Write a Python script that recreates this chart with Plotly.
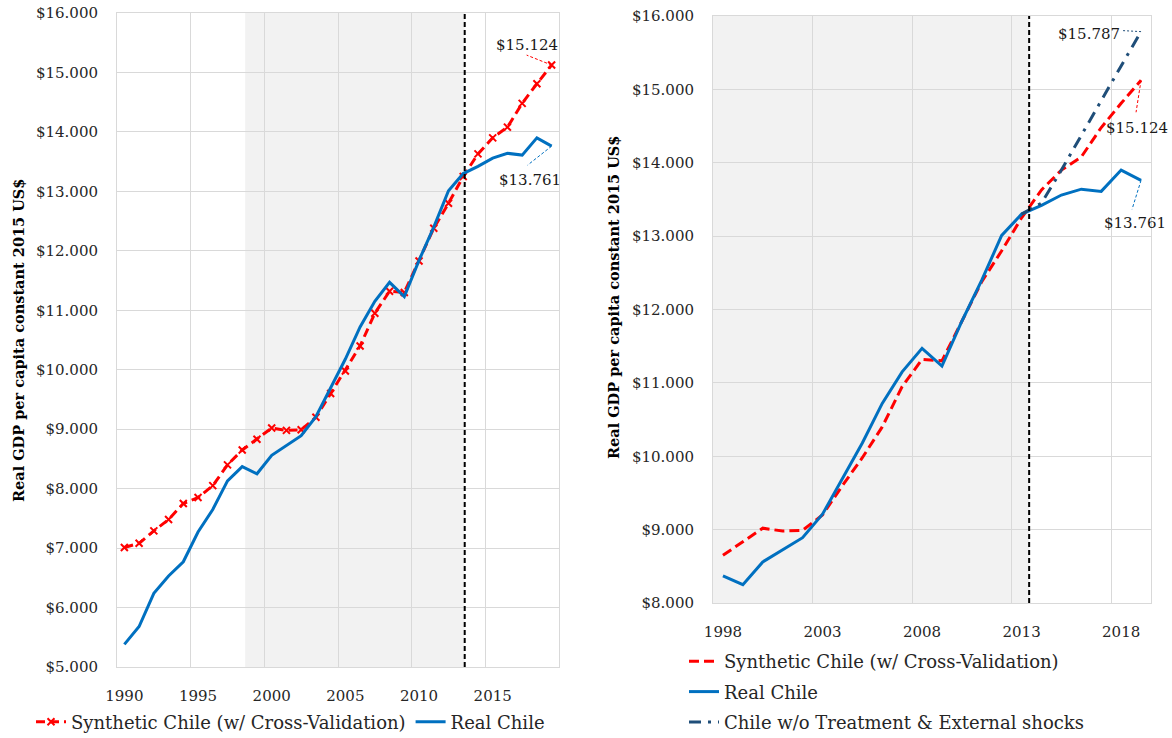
import plotly.graph_objects as go

# ---------------- data ----------------
years_left = list(range(1990, 2020))
real_chile = [5380, 5680, 6240, 6530, 6770, 7270, 7650, 8130, 8370, 8250,
              8560, 8720, 8890, 9210, 9700, 10180, 10720, 11150, 11470, 11230,
              11840, 12400, 13010, 13300, 13420, 13560, 13640, 13610, 13900, 13761]
synthetic_chile = [7010, 7080, 7290, 7480, 7750, 7850, 8050, 8400, 8650, 8830,
                   9020, 8980, 8990, 9200, 9600, 9980, 10400, 10950, 11320, 11300,
                   11830, 12380, 12800, 13250, 13630, 13900, 14080, 14480, 14810, 15124]
years_right = list(range(1998, 2020))
years_no_treat = list(range(2013, 2020))
chile_no_treatment = [13300, 13450, 13900, 14380, 14850, 15320, 15787]

left_xticks = [1990, 1995, 2000, 2005, 2010, 2015]
right_xticks = [1998, 2003, 2008, 2013, 2018]
left_yticks = list(range(5000, 16001, 1000))
right_yticks = list(range(8000, 16001, 1000))

def money(v):
    return "$" + f"{v:,}".replace(",", ".")

name_syn = "Synthetic Chile (w/ Cross-Validation)"
name_real = "Real Chile"
name_nt = "Chile w/o Treatment & External shocks"
ytitle = "Real GDP per capita constant 2015 US$"

shade_left = (1998.2, 2013.1)
shade_right = (1997.5, 2013.38)

RED = "#FF0000"
BLUE = "#0070C0"
NAVY = "#1F4E79"
GRID = "#D9D9D9"
SHADE = "#F2F2F2"
FONT = "DejaVu Serif"
TXT = "#262626"

r_idx = years_left.index(1998)
real_right = real_chile[r_idx:]
syn_right = synthetic_chile[r_idx:]

W = 1172.0
H = 738.0
def px(X):
    return X / W
def py(Y):
    return 1 - Y / H

fig = go.Figure()

# left panel
fig.add_trace(go.Scatter(x=years_left, y=synthetic_chile, name=name_syn, mode="lines+markers",
                         line=dict(color=RED, width=3, dash="9px,5px"),
                         marker=dict(symbol="x-thin", size=7, line=dict(color=RED, width=2)),
                         xaxis="x", yaxis="y", legend="legend"))
fig.add_trace(go.Scatter(x=years_left, y=real_chile, name=name_real, mode="lines",
                         line=dict(color=BLUE, width=3),
                         xaxis="x", yaxis="y", legend="legend"))

# right panel
fig.add_trace(go.Scatter(x=years_right, y=syn_right, name=name_syn, mode="lines",
                         line=dict(color=RED, width=3, dash="10px,5px"),
                         xaxis="x2", yaxis="y2", legend="legend2", legendgroup="a"))
fig.add_trace(go.Scatter(x=years_right, y=real_right, name=name_real, mode="lines",
                         line=dict(color=BLUE, width=3),
                         xaxis="x2", yaxis="y2", legend="legend2", legendgroup="b"))
fig.add_trace(go.Scatter(x=years_no_treat, y=chile_no_treatment, name=name_nt, mode="lines",
                         line=dict(color=NAVY, width=3, dash="12px,7px,3px,7px"),
                         xaxis="x2", yaxis="y2", legend="legend2", legendgroup="c"))

def xaxis_cfg(dom, ticks, first, last):
    return dict(domain=dom, range=[first - 0.5, last + 0.5], tickvals=ticks,
                ticktext=[str(t) for t in ticks], showgrid=False, zeroline=False,
                showline=True, mirror=True, linecolor=GRID, linewidth=1, ticks="",
                automargin=False, ticklabelstandoff=15, ticklabeloverflow="allow",
                tickfont=dict(family=FONT, size=15, color=TXT),
                minor=dict(tickvals=[t - 0.5 for t in ticks[1:]], showgrid=True,
                           gridcolor=GRID, gridwidth=1, ticklen=0))

def yaxis_cfg(dom, ticks, anchor):
    return dict(domain=dom, range=[ticks[0], ticks[-1]], tickvals=ticks,
                ticktext=[money(t) for t in ticks], showgrid=True, gridcolor=GRID,
                gridwidth=1, zeroline=False, showline=True, mirror=True, linecolor=GRID,
                ticks="", anchor=anchor, automargin=False, ticklabelstandoff=15,
                ticklabeloverflow="allow",
                tickfont=dict(family=FONT, size=15, color=TXT))

shapes = [
    dict(type="rect", xref="x", yref="y domain", x0=shade_left[0], x1=shade_left[1], y0=0, y1=1,
         fillcolor=SHADE, line=dict(width=0), layer="below"),
    dict(type="rect", xref="x2", yref="y2 domain", x0=shade_right[0], x1=shade_right[1], y0=0, y1=1,
         fillcolor=SHADE, line=dict(width=0), layer="below"),
    dict(type="line", xref="x", yref="y domain", x0=shade_left[1], x1=shade_left[1], y0=0, y1=1,
         line=dict(color="black", width=2, dash="5px,3px")),
    dict(type="line", xref="x2", yref="y2 domain", x0=shade_right[1], x1=shade_right[1], y0=0, y1=1,
         line=dict(color="black", width=2, dash="5px,3px")),
]

def leader(xref, yref, xa, ya, dx, dy, color, dash):
    return dict(type="line", xref=xref, yref=yref, xsizemode="pixel", ysizemode="pixel",
                xanchor=xa, yanchor=ya, x0=0, y0=0, x1=dx, y1=dy,
                line=dict(color=color, width=1, dash=dash))

annotations = []
def label(xref, yref, xa, ya, ax, ay, text):
    annotations.append(dict(xref=xref, yref=yref, x=xa, y=ya, ax=ax, ay=ay, showarrow=True,
                            arrowwidth=0.1, arrowcolor="rgba(0,0,0,0)", text=text,
                            font=dict(family=FONT, size=15, color="#1a1a1a")))

# left annotations
shapes.append(leader("x", "y", years_left[-1], synthetic_chile[-1], -25, 10, RED, "3px,2px"))
label("x", "y", years_left[-1], synthetic_chile[-1], -25, -20, money(synthetic_chile[-1]))
shapes.append(leader("x", "y", years_left[-1], real_chile[-1], -24, -19, BLUE, "3px,2px"))
label("x", "y", years_left[-1], real_chile[-1], -22, 34, money(real_chile[-1]))
# right annotations
shapes.append(leader("x2", "y2", years_no_treat[-1], chile_no_treatment[-1], -18, 1, NAVY, "2px,2px"))
label("x2", "y2", years_no_treat[-1], chile_no_treatment[-1], -52, 2, money(chile_no_treatment[-1]))
shapes.append(leader("x2", "y2", years_right[-1], syn_right[-1], -5, -32, RED, "3px,2px"))
label("x2", "y2", years_right[-1], syn_right[-1], -4, 48, money(syn_right[-1]))
shapes.append(leader("x2", "y2", years_right[-1], real_right[-1], -9, -29, BLUE, "3px,2px"))
label("x2", "y2", years_right[-1], real_right[-1], -6, 43, money(real_right[-1]))

# y-axis titles
for cx, cy in [(18, 341), (613, 298)]:
    annotations.append(dict(xref="paper", yref="paper", x=px(cx), y=py(cy), text=ytitle,
                            textangle=-90, showarrow=False, xanchor="center", yanchor="middle",
                            font=dict(family=FONT, size=14.5, color="black", weight="bold")))

fig.update_layout(
    width=int(W), height=int(H), margin=dict(l=0, r=0, t=0, b=0, autoexpand=False),
    paper_bgcolor="white", plot_bgcolor="white",
    xaxis=xaxis_cfg([px(117), px(559)], left_xticks, years_left[0], years_left[-1]),
    yaxis=yaxis_cfg([py(667), py(13)], left_yticks, "x"),
    xaxis2=dict(xaxis_cfg([px(713), px(1151)], right_xticks, years_right[0], years_right[-1]), anchor="y2"),
    yaxis2=yaxis_cfg([py(603), py(16)], right_yticks, "x2"),
    shapes=shapes, annotations=annotations,
    legend=dict(orientation="h", x=px(31), y=py(722), xanchor="left", yanchor="middle",
                font=dict(family=FONT, size=18, color=TXT), bgcolor="rgba(0,0,0,0)",
                itemwidth=30, tracegroupgap=0),
    legend2=dict(orientation="v", x=px(684), y=py(692), xanchor="left", yanchor="middle",
                 font=dict(family=FONT, size=18, color=TXT), bgcolor="rgba(0,0,0,0)",
                 tracegroupgap=4),
    showlegend=True,
)

fig.write_html("out.html", config={"displayModeBar": False},
               post_script="document.body.style.margin='0';document.body.style.overflow='hidden';")
